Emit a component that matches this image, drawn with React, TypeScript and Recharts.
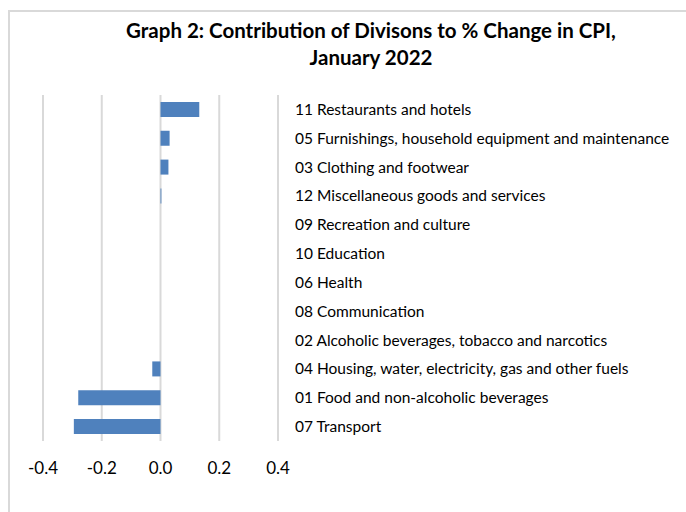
import React from 'react';
import { BarChart, Bar, XAxis, YAxis, CartesianGrid } from 'recharts';

const categories = [
    '11 Restaurants and hotels',
    '05 Furnishings, household equipment and maintenance',
    '03 Clothing and footwear',
    '12 Miscellaneous goods and services',
    '09 Recreation and culture',
    '10 Education',
    '06 Health',
    '08 Communication',
    '02 Alcoholic beverages, tobacco and narcotics',
    '04 Housing, water, electricity, gas and other fuels',
    '01 Food and non-alcoholic beverages',
    '07 Transport',
];

const contributions = [0.132, 0.031, 0.027, 0.003, 0, 0, 0, 0, 0, -0.028, -0.28, -0.295];

const xTicks = [-0.4, -0.2, 0, 0.2, 0.4];

const FONT = 'Lato, "Liberation Sans", sans-serif';

export default function App() {
    const data = categories.map((name, i) => ({ name, value: contributions[i] }));

    return (
        <div style={{ position: 'absolute', left: 0, top: 0, width: 686, height: 512, overflow: 'hidden', background: '#fff', fontFamily: FONT }}>
            {/* chart frame, right and bottom edges fall outside the picture */}
            <div style={{ position: 'absolute', left: 8, top: 10, width: 800, height: 600, border: '2px solid #d9d9d9' }} />
            <div style={{ position: 'absolute', left: 80, width: 582, top: 17, textAlign: 'center', fontWeight: 700, fontSize: 20.5, lineHeight: '27px', color: '#000' }}>
                Graph 2: Contribution of Divisons to % Change in CPI,<br />January 2022
            </div>
            <div style={{ position: 'absolute', left: 0, top: 0 }}>
                <BarChart
                    width={686}
                    height={512}
                    data={data}
                    layout="vertical"
                    margin={{ top: 95, right: 0, bottom: 31, left: 43 }}
                    barCategoryGap="24%"
                >
                    <CartesianGrid horizontal={false} stroke="#d9d9d9" strokeWidth={2} />
                    <XAxis
                        type="number"
                        domain={[-0.4, 0.4]}
                        ticks={xTicks}
                        tickFormatter={(v: number) => v.toFixed(1)}
                        axisLine={false}
                        tickLine={false}
                        tickSize={0}
                        tickMargin={21}
                        height={40}
                        interval={0}
                        tick={{ fill: '#000', fontSize: 17, fontFamily: FONT }}
                    />
                    <YAxis
                        type="category"
                        dataKey="name"
                        orientation="right"
                        width={408}
                        axisLine={false}
                        tickLine={false}
                        tickSize={0}
                        tickMargin={17}
                        interval={0}
                        tick={{ fill: '#000', fontSize: 15.5, fontFamily: FONT }}
                    />
                    <Bar dataKey="value" fill="#4f81bd" isAnimationActive={false} />
                </BarChart>
            </div>
        </div>
    );
}
